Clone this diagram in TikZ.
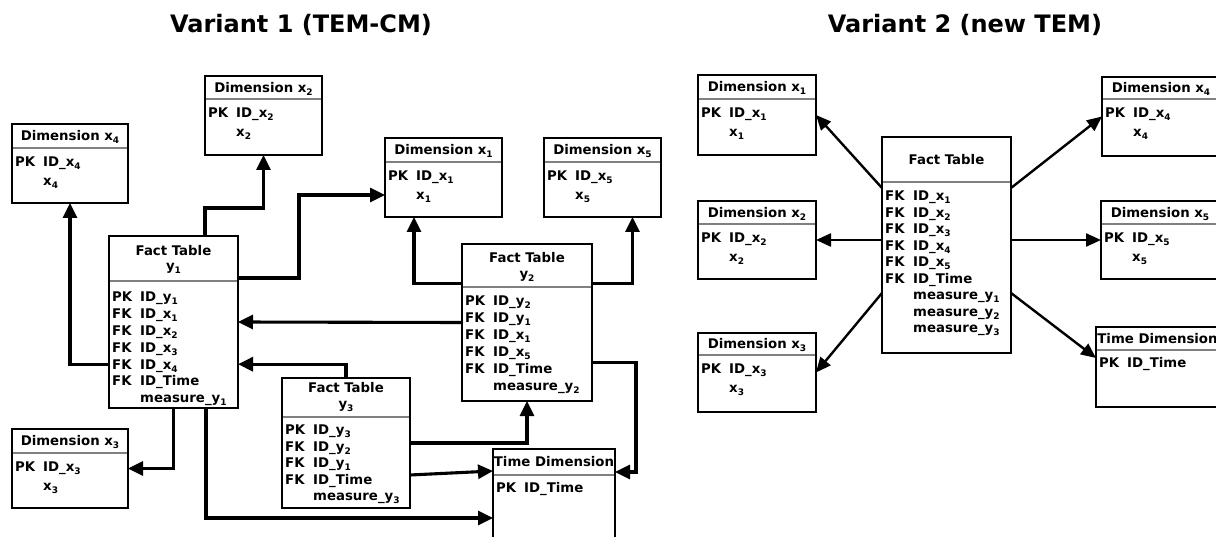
\documentclass[tikz,border=0pt]{standalone}
\usepackage{fontspec}
\setmainfont{DejaVu Sans}
\usetikzlibrary{arrows.meta,calc}

% subscript digit in the text font
\newcommand\sbs[1]{\raisebox{-3pt}{\fontsize{9}{9}\selectfont #1}}
% key column (PK / FK) followed by the attribute name
\newcommand\kc[2]{\makebox[28pt][l]{#1}#2}
% table outline with its header separator: name, x, y, width, height, header height
\newcommand\tablebox[6]{%
  \node[tbox, minimum width=#4pt, minimum height=#5pt] (#1) at (#2,#3) {};
  \draw[sepl] ([yshift=-#6pt,xshift=0.8pt]#1.north west) -- ([yshift=-#6pt,xshift=-0.8pt]#1.north east);
}

\begin{document}
\begin{tikzpicture}[
  x=1pt, y=-1pt,
  font=\bfseries\fontsize{13.3}{15}\selectfont,
  tbox/.style={draw, line width=1.6pt, rectangle, inner sep=0pt, outer sep=0pt, anchor=north west},
  sepl/.style={draw=black!50, line width=1.1pt},
  hdr/.style={inner sep=0pt, text height=9.7pt, text depth=0pt},
  row/.style={anchor=west, inner sep=0pt, text height=9.7pt, text depth=0pt},
  conn/.style={line width=3.1pt, -{Triangle[length=15pt,width=14pt]}},
  connb/.style={line width=2.4pt, -{Triangle[length=15pt,width=13pt]}},
  title/.style={inner sep=0pt, anchor=base, font=\bfseries\fontsize{24}{28}\selectfont}
]
\useasboundingbox (0,0) rectangle (1216,537);
\clip (0,0) rectangle (1216,537);

% ---------------- titles ----------------
\node[title] (t1) at (301,33) {Variant 1 (TEM-CM)};
\node[title] (t2) at (965,33) {Variant 2 (new TEM)};

% ================= Variant 1 =================
% Dimension x2
\tablebox{x2}{205}{76}{117}{79}{23}
\node[hdr] (x2h) at ($(x2.north)+(0,11.5)$) {Dimension x\sbs{2}};
\node[row] (x2r1) at ($(x2.north west)+(3,37)$) {\kc{PK}{ID\_x\sbs{2}}};
\node[row] (x2r2) at ($(x2.north west)+(3,56)$) {\kc{}{x\sbs{2}}};

% Dimension x4
\tablebox{x4}{12}{124}{116}{79}{24}
\node[hdr] (x4h) at ($(x4.north)+(0,12)$) {Dimension x\sbs{4}};
\node[row] (x4r1) at ($(x4.north west)+(3,38)$) {\kc{PK}{ID\_x\sbs{4}}};
\node[row] (x4r2) at ($(x4.north west)+(3,57)$) {\kc{}{x\sbs{4}}};

% Dimension x1
\tablebox{x1}{385}{138}{117}{79}{24}
\node[hdr] (x1h) at ($(x1.north)+(0,12)$) {Dimension x\sbs{1}};
\node[row] (x1r1) at ($(x1.north west)+(3,38)$) {\kc{PK}{ID\_x\sbs{1}}};
\node[row] (x1r2) at ($(x1.north west)+(3,57)$) {\kc{}{x\sbs{1}}};

% Dimension x5
\tablebox{x5}{544}{138}{117}{79}{24}
\node[hdr] (x5h) at ($(x5.north)+(0,12)$) {Dimension x\sbs{5}};
\node[row] (x5r1) at ($(x5.north west)+(3,38)$) {\kc{PK}{ID\_x\sbs{5}}};
\node[row] (x5r2) at ($(x5.north west)+(3,57)$) {\kc{}{x\sbs{5}}};

% Dimension x3
\tablebox{x3}{12}{429}{116}{79}{24}
\node[hdr] (x3h) at ($(x3.north)+(0,12)$) {Dimension x\sbs{3}};
\node[row] (x3r1) at ($(x3.north west)+(3,38)$) {\kc{PK}{ID\_x\sbs{3}}};
\node[row] (x3r2) at ($(x3.north west)+(3,57)$) {\kc{}{x\sbs{3}}};

% Fact table y1
\tablebox{y1}{109}{236}{129}{172}{45}
\node[hdr] (y1h) at ($(y1.north)+(0,15)$) {Fact Table};
\node[hdr] (y1h2) at ($(y1.north)+(0,30)$) {y\sbs{1}};
\node[row] (y1r1) at ($(y1.north west)+(3,61)$) {\kc{PK}{ID\_y\sbs{1}}};
\node[row] (y1r2) at ($(y1.north west)+(3,77.8)$) {\kc{FK}{ID\_x\sbs{1}}};
\node[row] (y1r3) at ($(y1.north west)+(3,94.6)$) {\kc{FK}{ID\_x\sbs{2}}};
\node[row] (y1r4) at ($(y1.north west)+(3,111.4)$) {\kc{FK}{ID\_x\sbs{3}}};
\node[row] (y1r5) at ($(y1.north west)+(3,128.2)$) {\kc{FK}{ID\_x\sbs{4}}};
\node[row] (y1r6) at ($(y1.north west)+(3,145)$) {\kc{FK}{ID\_Time}};
\node[row] (y1r7) at ($(y1.north west)+(3,161.8)$) {\kc{}{measure\_y\sbs{1}}};

% Fact table y2
\tablebox{y2}{462}{244}{130}{157}{43}
\node[hdr] (y2h) at ($(y2.north)+(0,14)$) {Fact Table};
\node[hdr] (y2h2) at ($(y2.north)+(0,30)$) {y\sbs{2}};
\node[row] (y2r1) at ($(y2.north west)+(3,57)$) {\kc{PK}{ID\_y\sbs{2}}};
\node[row] (y2r2) at ($(y2.north west)+(3,74)$) {\kc{FK}{ID\_y\sbs{1}}};
\node[row] (y2r3) at ($(y2.north west)+(3,91)$) {\kc{FK}{ID\_x\sbs{1}}};
\node[row] (y2r4) at ($(y2.north west)+(3,108)$) {\kc{FK}{ID\_x\sbs{5}}};
\node[row] (y2r5) at ($(y2.north west)+(3,125)$) {\kc{FK}{ID\_Time}};
\node[row] (y2r6) at ($(y2.north west)+(3,142)$) {\kc{}{measure\_y\sbs{2}}};

% Fact table y3
\tablebox{y3}{282}{378}{128}{130}{39}
\node[hdr] (y3h) at ($(y3.north)+(0,10)$) {Fact Table};
\node[hdr] (y3h2) at ($(y3.north)+(0,26)$) {y\sbs{3}};
\node[row] (y3r1) at ($(y3.north west)+(3,52)$) {\kc{PK}{ID\_y\sbs{3}}};
\node[row] (y3r2) at ($(y3.north west)+(3,68.5)$) {\kc{FK}{ID\_y\sbs{2}}};
\node[row] (y3r3) at ($(y3.north west)+(3,85)$) {\kc{FK}{ID\_y\sbs{1}}};
\node[row] (y3r4) at ($(y3.north west)+(3,101.5)$) {\kc{FK}{ID\_Time}};
\node[row] (y3r5) at ($(y3.north west)+(3,118)$) {\kc{}{measure\_y\sbs{3}}};

% Time dimension
\tablebox{tl}{493}{449}{122}{120}{26}
\node[hdr] (tlh) at ($(tl.north)+(0,13)$) {Time Dimension};
\node[row] (tlr1) at ($(tl.north west)+(3,39)$) {\kc{PK}{ID\_Time}};

% connectors of variant 1
\draw[conn] (y1.west |- y1r5) -| (x4.south);
\draw[conn] (y1.north -| x2.west) -- ++(0,-28) -| (x2.south);
\draw[conn] ([yshift=44pt]y1.east) -- ++(61,0) |- (x1.west |- x1r2);
\draw[conn] ([yshift=39pt]y2.west) -| ([xshift=-29.5pt]x1.south);
\draw[conn] ([yshift=39pt]y2.east) -| ([xshift=30pt]x5.south);
\draw[conn] (y2.west) -- (y1.east);
\draw[conn] (y3.north) |- (y1.east |- y1r5);
\draw[conn] (y3.east) -| (y2.south);
\draw[conn] ([yshift=-32pt]y3.east) -- ([yshift=-22pt]tl.north west);
\draw[conn] ([xshift=32.5pt]y1.south) |- ([yshift=-69pt]tl.north west);
\draw[conn] (y1.south) |- (x3.east);
\draw[conn] ([yshift=-40pt]y2.east) -- ++(44,0) |- ([yshift=-23pt]tl.north east);

% ================= Variant 2 =================
\tablebox{rx1}{698}{75}{118}{80}{24}
\node[hdr] (rx1h) at ($(rx1.north)+(0,12)$) {Dimension x\sbs{1}};
\node[row] (rx1r1) at ($(rx1.north west)+(3,38)$) {\kc{PK}{ID\_x\sbs{1}}};
\node[row] (rx1r2) at ($(rx1.north west)+(3,57)$) {\kc{}{x\sbs{1}}};

\tablebox{rx2}{698}{201}{118}{78}{23}
\node[hdr] (rx2h) at ($(rx2.north)+(0,11.5)$) {Dimension x\sbs{2}};
\node[row] (rx2r1) at ($(rx2.north west)+(3,37)$) {\kc{PK}{ID\_x\sbs{2}}};
\node[row] (rx2r2) at ($(rx2.north west)+(3,56)$) {\kc{}{x\sbs{2}}};

\tablebox{rx3}{698}{333}{118}{79}{22}
\node[hdr] (rx3h) at ($(rx3.north)+(0,11)$) {Dimension x\sbs{3}};
\node[row] (rx3r1) at ($(rx3.north west)+(3,36)$) {\kc{PK}{ID\_x\sbs{3}}};
\node[row] (rx3r2) at ($(rx3.north west)+(3,55)$) {\kc{}{x\sbs{3}}};

\tablebox{rf}{882}{137}{129}{216}{45}
\node[hdr] (rfh) at ($(rf.north)+(0,23)$) {Fact Table};
\node[row] (rfr1) at ($(rf.north west)+(3,59)$) {\kc{FK}{ID\_x\sbs{1}}};
\node[row] (rfr2) at ($(rf.north west)+(3,75.5)$) {\kc{FK}{ID\_x\sbs{2}}};
\node[row] (rfr3) at ($(rf.north west)+(3,92)$) {\kc{FK}{ID\_x\sbs{3}}};
\node[row] (rfr4) at ($(rf.north west)+(3,108.5)$) {\kc{FK}{ID\_x\sbs{4}}};
\node[row] (rfr5) at ($(rf.north west)+(3,125)$) {\kc{FK}{ID\_x\sbs{5}}};
\node[row] (rfr6) at ($(rf.north west)+(3,141.5)$) {\kc{FK}{ID\_Time}};
\node[row] (rfr7) at ($(rf.north west)+(3,158)$) {\kc{}{measure\_y\sbs{1}}};
\node[row] (rfr8) at ($(rf.north west)+(3,174.5)$) {\kc{}{measure\_y\sbs{2}}};
\node[row] (rfr9) at ($(rf.north west)+(3,191)$) {\kc{}{measure\_y\sbs{3}}};

\tablebox{rx4}{1102}{77}{118}{79}{22}
\node[hdr] (rx4h) at ($(rx4.north)+(0,11)$) {Dimension x\sbs{4}};
\node[row] (rx4r1) at ($(rx4.north west)+(3,36)$) {\kc{PK}{ID\_x\sbs{4}}};
\node[row] (rx4r2) at ($(rx4.north west)+(3,55)$) {\kc{}{x\sbs{4}}};

\tablebox{rx5}{1101}{201}{118}{78}{23}
\node[hdr] (rx5h) at ($(rx5.north)+(0,11.5)$) {Dimension x\sbs{5}};
\node[row] (rx5r1) at ($(rx5.north west)+(3,37)$) {\kc{PK}{ID\_x\sbs{5}}};
\node[row] (rx5r2) at ($(rx5.north west)+(3,56)$) {\kc{}{x\sbs{5}}};

\tablebox{rt}{1096}{327}{123}{80}{23}
\node[hdr] (rth) at ($(rt.north)+(0,11.5)$) {Time Dimension};
\node[row] (rtr1) at ($(rt.north west)+(3,36)$) {\kc{PK}{ID\_Time}};

% connectors of variant 2
\draw[connb] ([yshift=57pt]rf.west) -- (rx1.east);
\draw[connb] (rf.west |- rx2.east) -- (rx2.east);
\draw[connb] ([yshift=-48pt]rf.west) -- (rx3.east);
\draw[connb] ([yshift=57pt]rf.east) -- (rx4.west);
\draw[connb] (rf.east |- rx5.west) -- (rx5.west);
\draw[connb] ([yshift=-48pt]rf.east) -- ([yshift=9pt]rt.west);
\end{tikzpicture}
\end{document}
